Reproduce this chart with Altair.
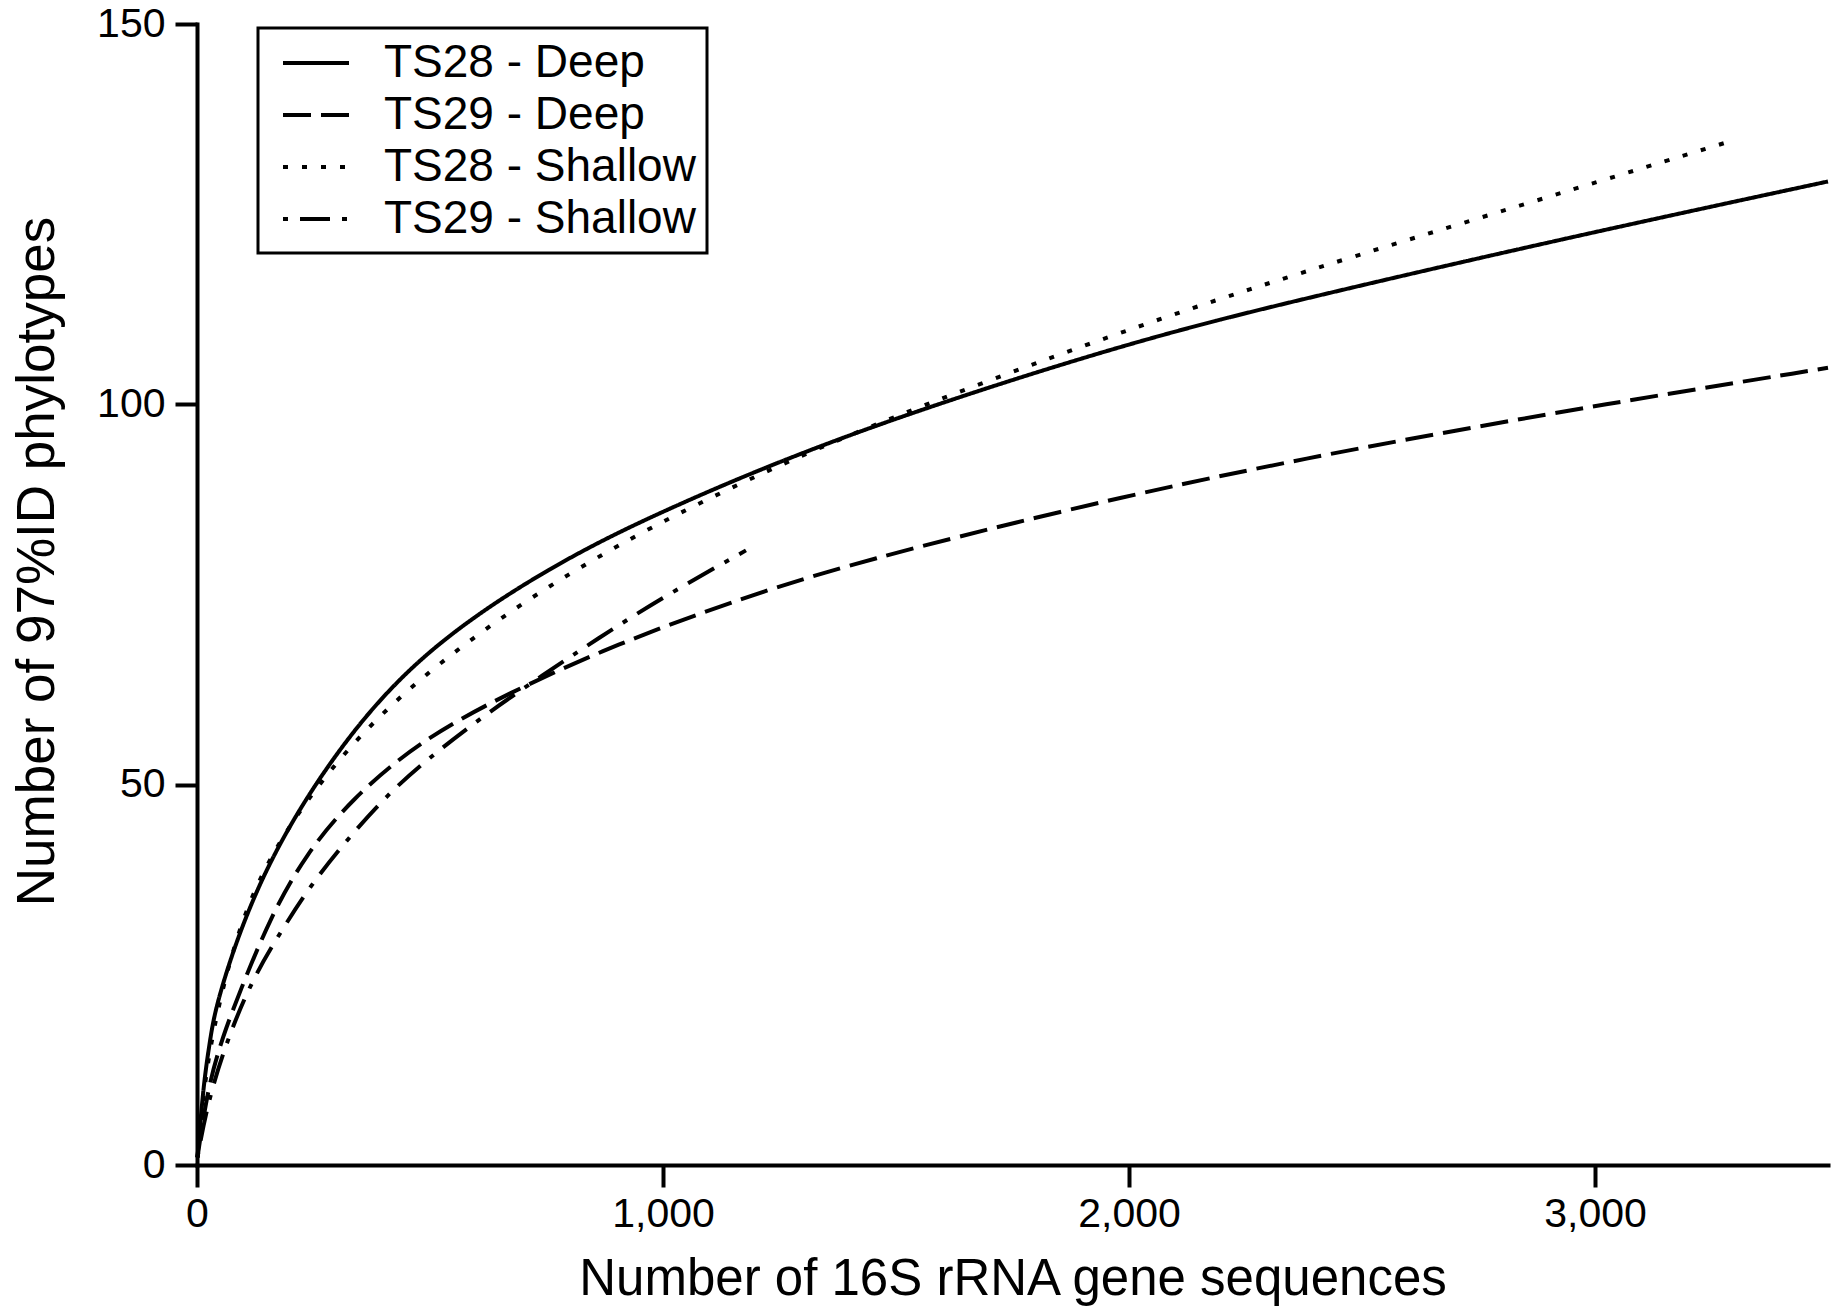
import altair as alt
import pandas as pd

FONT = "Liberation Sans"

series_names = ["TS28 - Deep", "TS29 - Deep", "TS28 - Shallow", "TS29 - Shallow"]

ts28_deep_x = [1, 14, 28, 42, 129, 282, 474, 761, 1011, 1401, 2000, 2367, 2932, 3500]
ts28_deep_y = [1, 10.7, 16.4, 21.7, 37.5, 53.3, 67.3, 78.9, 86.4, 96.4, 108.2, 113.8, 121.8, 129.3]

ts29_deep_x = [1, 24, 56, 90, 158, 234, 330, 474, 665, 905, 1145, 1401, 2000, 2500, 3036, 3500]
ts29_deep_y = [1, 10.5, 17.0, 22.5, 32.7, 40.9, 48.0, 55.6, 62.0, 68.6, 74.0, 79.1, 88.2, 94.4, 100.2, 104.8]

ts28_shallow_x = [1, 14, 42, 110, 225, 360, 512, 685, 857, 1040, 1401, 2000, 2367, 2843, 3291]
ts28_shallow_y = [1, 10.0, 20.5, 35.7, 47.4, 57.4, 65.7, 73.4, 79.9, 86.0, 96.4, 110.0, 117.3, 126.2, 134.6]

ts29_shallow_x = [1, 30, 105, 177, 244, 321, 407, 493, 618, 742, 857, 1001, 1178]
ts29_shallow_y = [1, 10.5, 23.0, 30.4, 36.8, 42.7, 48.6, 53.3, 59.2, 64.4, 69.1, 74.7, 80.8]

x_ticks = [0, 1000, 2000, 3000]
y_ticks = [0, 50, 100, 150]

rows = []
for name, xs, ys in zip(
    series_names,
    [ts28_deep_x, ts29_deep_x, ts28_shallow_x, ts29_shallow_x],
    [ts28_deep_y, ts29_deep_y, ts28_shallow_y, ts29_shallow_y],
):
    for i, (xv, yv) in enumerate(zip(xs, ys)):
        rows.append({"series": name, "x": xv, "y": yv, "order": i})
df = pd.DataFrame(rows)

dash_range = [[1, 0], [28, 10], [5, 14], [5, 12, 30, 12]]

chart = alt.Chart(df).mark_line(
    color="black", strokeWidth=4, interpolate="basis", strokeCap="butt"
).encode(
    x=alt.X(
        "x:Q",
        scale=alt.Scale(domain=[0, 3500], nice=False, zero=True),
        axis=alt.Axis(
            values=x_ticks, format=",d", title="Number of 16S rRNA gene sequences",
            labelPadding=7, titlePadding=20, titleFontSize=51, labelFlush=False,
        ),
    ),
    y=alt.Y(
        "y:Q",
        scale=alt.Scale(domain=[0, 150], nice=False),
        axis=alt.Axis(
            values=y_ticks, title="Number of 97%ID phylotypes",
            labelPadding=10, titlePadding=32, titleFontSize=53, titleY=537,
        ),
    ),
    strokeDash=alt.StrokeDash(
        "series:N",
        scale=alt.Scale(domain=series_names, range=dash_range),
        legend=alt.Legend(
            title=None, orient="none", legendX=61, legendY=4,
            symbolType="M-1.5,0H1.5", symbolSize=1936, symbolStrokeWidth=4,
            symbolStrokeColor="black", symbolFillColor="white",
            symbolOffset=23, labelOffset=44, labelLimit=600,
            labelFontSize=46, labelFont=FONT, labelColor="black",
            labelExpr="datum.label + ' '",
            rowPadding=5, padding=11,
            strokeColor="black", fillColor="white",
        ),
    ),
    order="order:Q",
).properties(
    width=1631, height=1141,
    autosize=alt.AutoSizeParams(type="none"),
    padding={"left": 197, "top": 24, "right": 15, "bottom": 146},
).configure_view(
    strokeWidth=0
).configure_axis(
    grid=False,
    domainColor="black", domainWidth=4, domainCap="square",
    tickColor="black", tickWidth=4, tickSize=22,
    labelFont=FONT, labelFontSize=41, labelColor="black",
    titleFont=FONT, titleFontWeight="normal", titleColor="black",
).configure_legend(
    strokeWidth=3
)

chart.save("out.html", embed_options={"renderer": "svg", "actions": False})
